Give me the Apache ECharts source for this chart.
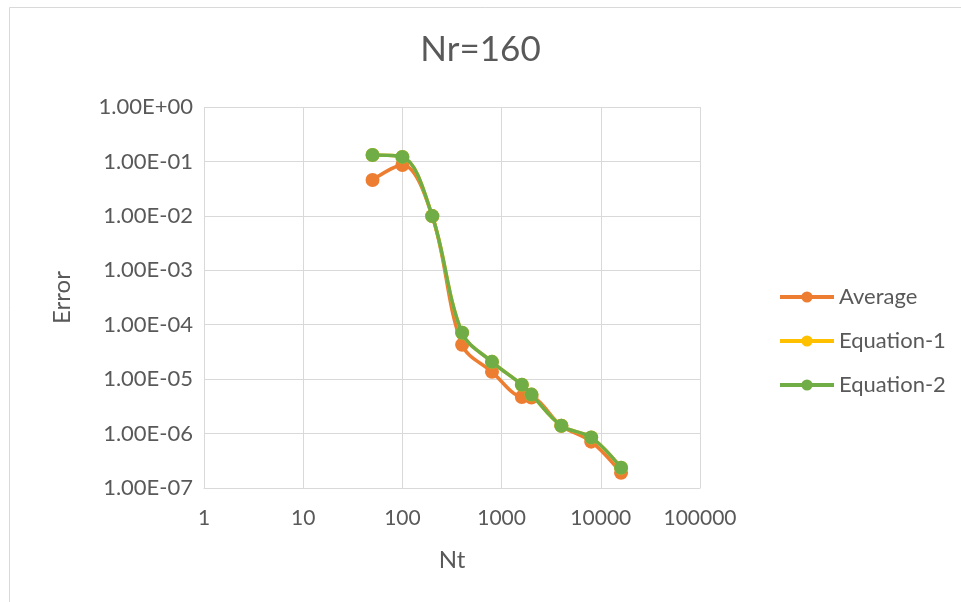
<!DOCTYPE html>
<html>
<head>
<meta charset="utf-8">
<script src="https://cdn.jsdelivr.net/npm/echarts@6/dist/echarts.min.js"></script>
<style>
  html, body { margin: 0; padding: 0; background: #fff; }
  #chart { width: 961px; height: 602px; }
</style>
</head>
<body>
<div id="chart"></div>
<script>
// values
var nt = [50, 100, 200, 400, 800, 1600, 2000, 4000, 8000, 16000];
var average = [0.0457, 0.0861, 0.0099, 4.28e-5, 1.36e-5, 4.7e-6, 4.6e-6, 1.39e-6, 7.1e-7, 1.9e-7];
var equation1 = [0.1315, 0.121, 0.0099, 7.1e-5, 2.08e-5, 7.9e-6, 5.2e-6, 1.39e-6, 8.5e-7, 2.36e-7];
var equation2 = [0.1315, 0.121, 0.0099, 7.1e-5, 2.08e-5, 7.9e-6, 5.2e-6, 1.39e-6, 8.5e-7, 2.36e-7];

var seriesNames = ['Average', 'Equation-1', 'Equation-2'];
var seriesColors = ['#ED7D31', '#FFC000', '#70AD47'];
var seriesValues = [average, equation1, equation2];

var textColor = '#595959';
var font = 'Lato, "Open Sans", sans-serif';

function pairs(ys) {
    var out = [];
    for (var i = 0; i < nt.length; i++) {
        out.push([nt[i], ys[i]]);
    }
    return out;
}

// 1.00E-07 style
function sci(v) {
    var e = Math.round(Math.log10(v));
    var m = v / Math.pow(10, e);
    var sign = e < 0 ? '-' : '+';
    var a = Math.abs(e);
    return m.toFixed(2) + 'E' + sign + (a < 10 ? '0' + a : a);
}

var series = [];
for (var i = 0; i < seriesNames.length; i++) {
    series.push({
        name: seriesNames[i],
        type: 'line',
        data: pairs(seriesValues[i]),
        smooth: 0.35,
        symbol: 'circle',
        symbolSize: 14,
        lineStyle: { width: 3.5, color: seriesColors[i] },
        itemStyle: { color: seriesColors[i] },
        z: 2 + i
    });
}

var myChart = echarts.init(document.getElementById('chart'));
myChart.setOption({
    animation: false,
    backgroundColor: '#fff',
    textStyle: { fontFamily: font },
    title: {
        text: 'Nr=160',
        left: 'center',
        top: 27,
        textStyle: { color: textColor, fontSize: 35, fontWeight: 'normal', fontFamily: font }
    },
    graphic: [{
        type: 'rect',
        shape: { x: 9.5, y: 7.5, width: 1000, height: 700 },
        style: { fill: 'none', stroke: '#d9d9d9', lineWidth: 1 },
        silent: true
    }],
    legend: {
        orient: 'vertical',
        left: 773,
        top: 281,
        itemGap: 22,
        itemWidth: 54,
        itemHeight: 14,
        lineStyle: { width: 4 },
        textStyle: { color: textColor, fontSize: 22, fontFamily: font },
        data: seriesNames
    },
    grid: { left: 204, top: 107, right: 261, bottom: 114, containLabel: false },
    xAxis: {
        type: 'log',
        logBase: 10,
        min: 1,
        max: 100000,
        name: 'Nt',
        nameLocation: 'middle',
        nameGap: 60,
        nameTextStyle: { color: textColor, fontSize: 24, fontFamily: font },
        axisLine: { show: true, lineStyle: { color: '#d9d9d9', width: 1 } },
        axisTick: { show: false },
        axisLabel: { color: textColor, fontSize: 21, margin: 20, fontFamily: font,
            formatter: function (v) { return String(Math.round(v)); } },
        splitLine: { show: true, lineStyle: { color: '#d9d9d9', width: 1 } },
        minorTick: { show: false },
        minorSplitLine: { show: false }
    },
    yAxis: {
        type: 'log',
        logBase: 10,
        min: 1e-7,
        max: 1,
        name: 'Error',
        nameLocation: 'middle',
        nameGap: 130,
        nameRotate: 90,
        nameTextStyle: { color: textColor, fontSize: 24, fontFamily: font },
        axisLine: { show: false },
        axisTick: { show: false },
        axisLabel: { color: textColor, fontSize: 22, margin: 11, fontFamily: font, formatter: sci },
        splitLine: { show: true, lineStyle: { color: '#d9d9d9', width: 1 } }
    },
    series: series
});
</script>
</body>
</html>
